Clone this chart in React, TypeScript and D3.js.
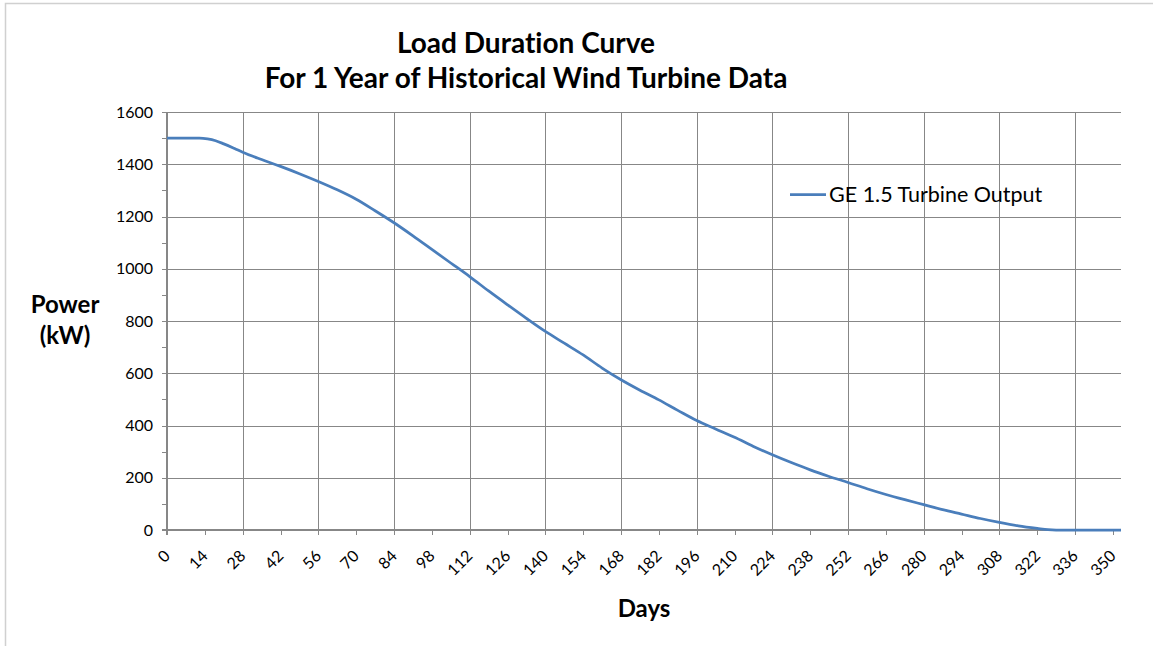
import React, { useRef, useEffect } from 'react';
import * as d3 from 'd3';

// load duration curve
const days = [0, 6, 12, 15, 18, 21, 25, 28, 35, 42, 49, 56, 63, 70, 77, 84, 91, 98, 105, 112, 119, 126, 133, 140, 147, 154, 161, 168, 175, 182, 189, 196, 203, 210, 217, 224, 231, 238, 245, 252, 259, 266, 273, 280, 287, 294, 301, 308, 315, 322, 326, 329, 340, 353];
const powerKw = [1500, 1500, 1500, 1497, 1490, 1478, 1460, 1446, 1418, 1392, 1364, 1334, 1302, 1266, 1222, 1176, 1126, 1074, 1022, 970, 915, 862, 810, 760, 715, 670, 620, 575, 535, 498, 458, 419, 387, 355, 320, 288, 258, 230, 205, 182, 158, 136, 116, 97, 78, 61, 44, 29, 16, 6, 1, 0, 0, 0];

const xTicks = d3.range(0, 351, 14);
const yTicks = d3.range(0, 1601, 200);
const yMinor = d3.range(100, 1600, 200);

const titleLines = ['Load Duration Curve', 'For 1 Year of Historical Wind Turbine Data'];
const yTitleLines = ['Power', '(kW)'];
const xTitle = 'Days';
const seriesName = 'GE 1.5 Turbine Output';

const FONT = 'Lato, "Open Sans", sans-serif';
const GRID = '#878787';
const BLUE = '#4A7EBB';

const App = () => {
  const ref = useRef<SVGSVGElement>(null);

  useEffect(() => {
    const width = 1153;
    const height = 646;
    const margin = { top: 112, right: 32, bottom: 116, left: 167 };

    const svg = d3.select(ref.current);
    svg.selectAll('*').remove();

    // chart border (only top and left are visible in the frame)
    svg.append('rect')
      .attr('x', 5.5).attr('y', 3.5)
      .attr('width', width + 20).attr('height', height + 20)
      .attr('fill', 'white')
      .attr('stroke', '#D0D0D0')
      .attr('stroke-width', 1.5);

    const x = d3.scaleLinear().domain([0, 353]).range([margin.left, width - margin.right]);
    const y = d3.scaleLinear().domain([0, 1600]).range([height - margin.bottom, margin.top]);
    const x0 = x(0), x1 = x(353), y0 = y(0);

    // gridlines
    const grid = svg.append('g').attr('stroke', GRID).attr('stroke-width', 1).attr('shape-rendering', 'crispEdges');
    grid.selectAll('.hg').data(yTicks.filter(d => d > 0)).join('line')
      .attr('x1', x0).attr('x2', x1)
      .attr('y1', d => Math.round(y(d)) + 0.5).attr('y2', d => Math.round(y(d)) + 0.5);
    grid.selectAll('.vg').data(xTicks.filter(d => d > 0 && d % 28 === 0)).join('line')
      .attr('x1', d => Math.round(x(d)) + 0.5).attr('x2', d => Math.round(x(d)) + 0.5)
      .attr('y1', y(1600)).attr('y2', y0 + 5);

    // tick marks
    const ticks = svg.append('g').attr('stroke', GRID).attr('stroke-width', 1).attr('shape-rendering', 'crispEdges');
    ticks.selectAll('.yt').data([...yTicks, ...yMinor]).join('line')
      .attr('x1', x0 - 5).attr('x2', x0)
      .attr('y1', d => Math.round(y(d)) + 0.5).attr('y2', d => Math.round(y(d)) + 0.5);
    ticks.selectAll('.xt').data(xTicks).join('line')
      .attr('x1', d => Math.round(x(d)) + 0.5).attr('x2', d => Math.round(x(d)) + 0.5)
      .attr('y1', y0).attr('y2', y0 + 5);

    // axis lines
    svg.append('line')
      .attr('x1', x0).attr('x2', x0).attr('y1', y(1600)).attr('y2', y0 + 5)
      .attr('stroke', GRID).attr('stroke-width', 2);
    svg.append('line')
      .attr('x1', x0 - 5).attr('x2', x1).attr('y1', y0).attr('y2', y0)
      .attr('stroke', GRID).attr('stroke-width', 2);

    // tick labels
    svg.append('g').selectAll('text').data(yTicks).join('text')
      .attr('x', x0 - 14).attr('y', d => y(d)).attr('dy', '0.35em')
      .attr('text-anchor', 'end')
      .style('font-family', FONT).style('font-size', '16px').attr('fill', '#000')
      .text(d => d);

    svg.append('g').selectAll('text').data(xTicks).join('text')
      .attr('transform', d => `translate(${x(d) + 4},${y0 + 27}) rotate(-45)`)
      .attr('text-anchor', 'end')
      .style('font-family', FONT).style('font-size', '16px').attr('fill', '#000')
      .text(d => d);

    // the curve
    const line = d3.line<number>()
      .x((d, i) => x(days[i]))
      .y(d => y(d))
      .curve(d3.curveMonotoneX);
    svg.append('path')
      .datum(powerKw)
      .attr('d', line)
      .attr('fill', 'none')
      .attr('stroke', BLUE)
      .attr('stroke-width', 2.75)
      .attr('stroke-linejoin', 'round');

    // titles
    svg.append('g').selectAll('text').data(titleLines).join('text')
      .attr('x', 526).attr('y', (d, i) => 53 + i * 35)
      .attr('text-anchor', 'middle')
      .style('font-family', FONT).style('font-size', '28px').style('font-weight', 700)
      .style('font-variant-ligatures', 'none')
      .text(d => d);

    svg.append('g').selectAll('text').data(yTitleLines).join('text')
      .attr('x', 65).attr('y', (d, i) => 313 + i * 31)
      .attr('text-anchor', 'middle')
      .style('font-family', FONT).style('font-size', '24px').style('font-weight', 700)
      .text(d => d);

    svg.append('text')
      .attr('x', (x0 + x1) / 2).attr('y', 617)
      .attr('text-anchor', 'middle')
      .style('font-family', FONT).style('font-size', '24px').style('font-weight', 700)
      .text(xTitle);

    // legend
    svg.append('line')
      .attr('x1', 790).attr('x2', 826).attr('y1', 194.5).attr('y2', 194.5)
      .attr('stroke', BLUE).attr('stroke-width', 2.75);
    svg.append('text')
      .attr('x', 829).attr('y', 202)
      .style('font-family', FONT).style('font-size', '21.5px')
      .text(seriesName);
  }, []);

  return (
    <svg ref={ref} width={1153} height={646}
      style={{ position: 'absolute', left: 0, top: 0, background: 'white' }} />
  );
};

export default App;
